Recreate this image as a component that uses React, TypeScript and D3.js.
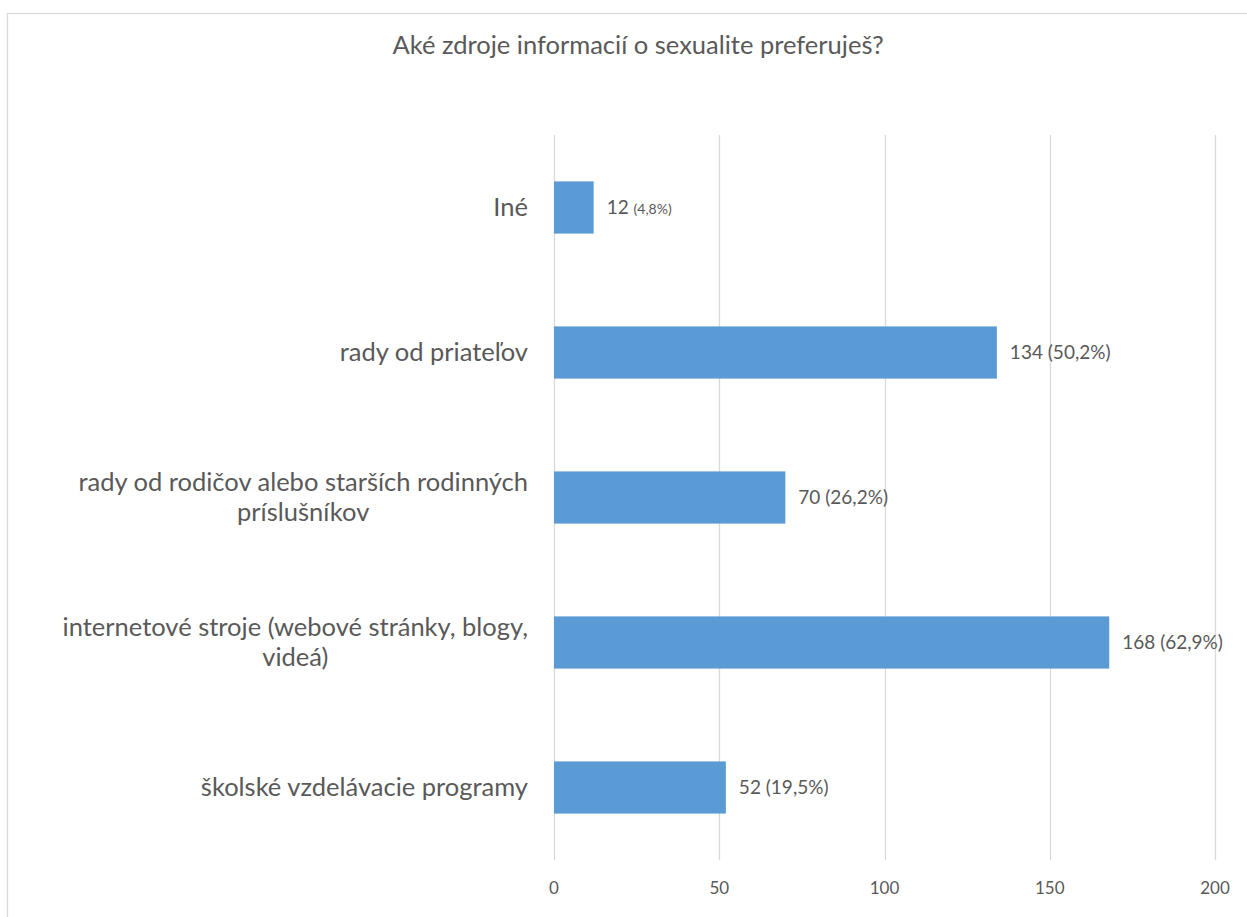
import React, { useEffect, useRef } from "react";
import * as d3 from "d3";

const title = "Aké zdroje informacií o sexualite preferuješ?";
const categories = [
  "Iné",
  "rady od priateľov",
  "rady od rodičov alebo starších rodinných príslušníkov",
  "internetové stroje (webové stránky, blogy, videá)",
  "školské vzdelávacie programy",
];
const categoryLines = [
  ["Iné"],
  ["rady od priateľov"],
  ["rady od rodičov alebo starších rodinných", "príslušníkov"],
  ["internetové stroje (webové stránky, blogy,", "videá)"],
  ["školské vzdelávacie programy"],
];
const values = [12, 134, 70, 168, 52];
const percents = ["(4,8%)", "(50,2%)", "(26,2%)", "(62,9%)", "(19,5%)"];
const xTicks = [0, 50, 100, 150, 200];
const smallPercentCategory = "Iné";

const W = 1247;
const H = 917;
const FONT = "Lato, 'Open Sans', sans-serif";
const TEXT = "#595959";
const GRID = "#d9d9d9";
const BAR = "#5b9bd5";

export default function App() {
  const ref = useRef<SVGSVGElement | null>(null);

  useEffect(() => {
    const svg = d3.select(ref.current);
    svg.selectAll("*").remove();

    const x = d3.scaleLinear().domain([0, 200]).range([554, 1215]);
    const y = d3
      .scaleBand<string>()
      .domain(categories)
      .range([135, 860])
      .paddingInner(0.64)
      .paddingOuter(0.32);

    // outer border
    svg
      .append("rect")
      .attr("x", 7.5)
      .attr("y", 13.5)
      .attr("width", 1262)
      .attr("height", 930)
      .attr("fill", "#fff")
      .attr("stroke", GRID)
      .attr("stroke-width", 1.3);

    svg
      .append("text")
      .attr("x", 638)
      .attr("y", 45)
      .attr("dy", "0.35em")
      .attr("text-anchor", "middle")
      .attr("font-family", FONT)
      .attr("font-size", 25.5)
      .attr("fill", TEXT)
      .text(title);

    // gridlines
    svg
      .append("g")
      .selectAll("line")
      .data(xTicks)
      .join("line")
      .attr("x1", (d) => Math.round(x(d)) + 0.5)
      .attr("x2", (d) => Math.round(x(d)) + 0.5)
      .attr("y1", 135)
      .attr("y2", 860)
      .attr("stroke", GRID)
      .attr("stroke-width", 1.3);

    // tick labels
    svg
      .append("g")
      .selectAll("text")
      .data(xTicks)
      .join("text")
      .attr("x", (d) => x(d))
      .attr("y", 888)
      .attr("dy", "0.35em")
      .attr("text-anchor", "middle")
      .attr("font-family", FONT)
      .attr("font-size", 17)
      .attr("fill", TEXT)
      .text((d) => String(d));

    // bars
    svg
      .append("g")
      .selectAll("rect")
      .data(categories)
      .join("rect")
      .attr("x", x(0))
      .attr("y", (d) => y(d) as number)
      .attr("width", (d, i) => x(values[i]) - x(0))
      .attr("height", y.bandwidth())
      .attr("fill", BAR);

    // value labels
    const vg = svg.append("g");
    categories.forEach((c, i) => {
      const t = vg
        .append("text")
        .attr("x", x(values[i]) + 13)
        .attr("y", (y(c) as number) + y.bandwidth() / 2)
        .attr("dy", "0.35em")
        .attr("font-family", FONT)
        .attr("font-size", 19)
        .attr("fill", TEXT);
      t.append("tspan").text(values[i] + " ");
      t.append("tspan")
        .attr("font-size", c === smallPercentCategory ? 14 : 19)
        .text(percents[i]);
    });

    // category labels
    const lg = svg.append("g");
    const right = x(0) - 26;
    const lineGap = 30;
    categories.forEach((c, i) => {
      const lines = categoryLines[i];
      const cy = (y(c) as number) + y.bandwidth() / 2;
      const t = lg
        .append("text")
        .attr("font-family", FONT)
        .attr("font-size", 25.5)
        .attr("fill", TEXT)
        .attr("text-anchor", "middle");
      const spans = lines.map((ln, k) =>
        t
          .append("tspan")
          .attr("y", cy + (k - (lines.length - 1) / 2) * lineGap)
          .attr("dy", "0.35em")
          .text(ln)
      );
      const widths = spans.map((s) => (s.node() as SVGTSpanElement).getComputedTextLength());
      const bw = Math.max(...widths);
      const cx = right - bw / 2;
      spans.forEach((s) => s.attr("x", cx));
    });
  }, []);

  return (
    <div style={{ position: "absolute", left: 0, top: 0 }}>
      <svg ref={ref} width={W} height={H} style={{ display: "block" }} />
    </div>
  );
}
